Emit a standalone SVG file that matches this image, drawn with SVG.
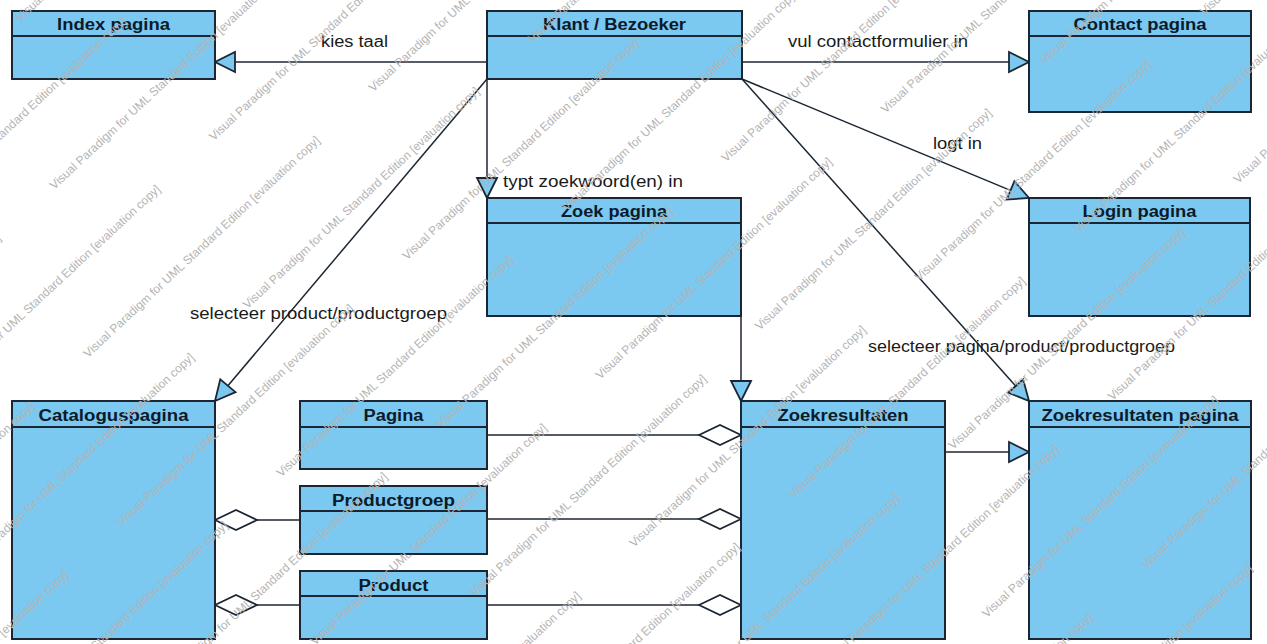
<svg xmlns="http://www.w3.org/2000/svg" width="1267" height="644" viewBox="0 0 1267 644">
<style>
.box{fill:#7BC8F0;stroke:#1c2633;stroke-width:2}
.div{stroke:#1c2633;stroke-width:2}
.hdr{font-family:"Liberation Sans",Arial,sans-serif;font-weight:bold;font-size:16px;fill:#0d1a2a;text-anchor:middle}
.lbl{font-family:"Liberation Sans",Arial,sans-serif;font-size:16px;fill:#1a1a1a}
.con{fill:none;stroke:#1c2633;stroke-width:1.5}
.wm{font-family:"Liberation Sans",Arial,sans-serif;font-size:12px;fill:#b4b4b4}
</style>
<defs>
<marker id="tri" viewBox="-2 -2 24 24" refX="20" refY="10" markerWidth="24" markerHeight="24" markerUnits="userSpaceOnUse" orient="auto">
<path d="M0,0 L20,10 L0,20 Z" fill="#7BC8F0" stroke="#1c2633" stroke-width="1.8" stroke-linejoin="miter"/>
</marker>
<marker id="dia" viewBox="-2 -2 46 24" refX="42" refY="10" markerWidth="46" markerHeight="24" markerUnits="userSpaceOnUse" orient="auto">
<path d="M0,10 L21,0 L42,10 L21,20 Z" fill="#ffffff" stroke="#1c2633" stroke-width="1.8"/>
</marker>
</defs>
<rect width="1267" height="644" fill="#ffffff"/>

<g id="connectors">
<path class="con" d="M487,62 L215,62" marker-end="url(#tri)"/>
<path class="con" d="M742,62 L1029,62" marker-end="url(#tri)"/>
<path class="con" d="M487,79 L487,198" marker-end="url(#tri)"/>
<path class="con" d="M742,79 L1029,198" marker-end="url(#tri)"/>
<path class="con" d="M742,79 L1029,401" marker-end="url(#tri)"/>
<path class="con" d="M487,79 L215,401" marker-end="url(#tri)"/>
<path class="con" d="M741,316 L741,401" marker-end="url(#tri)"/>
<path class="con" d="M945,452 L1029,452" marker-end="url(#tri)"/>
<path class="con" d="M487,435 L741,435" marker-end="url(#dia)"/>
<path class="con" d="M487,519 L741,519" marker-end="url(#dia)"/>
<path class="con" d="M487,605 L741,605" marker-end="url(#dia)"/>
<path class="con" d="M300,520 L215,520" marker-end="url(#dia)"/>
<path class="con" d="M300,605 L215,605" marker-end="url(#dia)"/>
<text class="lbl" x="321" y="47" textLength="67" lengthAdjust="spacingAndGlyphs">kies taal</text>
<text class="lbl" x="788" y="47" textLength="180" lengthAdjust="spacingAndGlyphs">vul contactformulier in</text>
<text class="lbl" x="933" y="149" textLength="49" lengthAdjust="spacingAndGlyphs">logt in</text>
<text class="lbl" x="503" y="187" textLength="180" lengthAdjust="spacingAndGlyphs">typt zoekwoord(en) in</text>
<text class="lbl" x="190" y="319" textLength="257" lengthAdjust="spacingAndGlyphs">selecteer product/productgroep</text>
<text class="lbl" x="868" y="352" textLength="307" lengthAdjust="spacingAndGlyphs">selecteer pagina/product/productgroep</text>
</g>

<g id="index-pagina">
<rect class="box" x="12" y="11" width="203" height="68"/>
<line class="div" x1="12" y1="36" x2="215" y2="36"/>
<text class="hdr" x="113.5" y="30" textLength="113" lengthAdjust="spacingAndGlyphs">Index pagina</text>
</g>
<g id="klant-bezoeker">
<rect class="box" x="487" y="11" width="255" height="68"/>
<line class="div" x1="487" y1="36" x2="742" y2="36"/>
<text class="hdr" x="614.5" y="30" textLength="143" lengthAdjust="spacingAndGlyphs">Klant / Bezoeker</text>
</g>
<g id="contact-pagina">
<rect class="box" x="1029" y="11" width="222" height="101"/>
<line class="div" x1="1029" y1="36" x2="1251" y2="36"/>
<text class="hdr" x="1140" y="30" textLength="133" lengthAdjust="spacingAndGlyphs">Contact pagina</text>
</g>
<g id="zoek-pagina">
<rect class="box" x="487" y="198" width="254" height="118"/>
<line class="div" x1="487" y1="223" x2="741" y2="223"/>
<text class="hdr" x="614" y="217" textLength="106" lengthAdjust="spacingAndGlyphs">Zoek pagina</text>
</g>
<g id="login-pagina">
<rect class="box" x="1029" y="198" width="221" height="118"/>
<line class="div" x1="1029" y1="223" x2="1250" y2="223"/>
<text class="hdr" x="1139.5" y="217" textLength="114" lengthAdjust="spacingAndGlyphs">Login pagina</text>
</g>
<g id="catalogus-pagina">
<rect class="box" x="12" y="401" width="203" height="238"/>
<line class="div" x1="12" y1="427" x2="215" y2="427"/>
<text class="hdr" x="113.5" y="421" textLength="150" lengthAdjust="spacingAndGlyphs">Cataloguspagina</text>
</g>
<g id="pagina">
<rect class="box" x="300" y="401" width="187" height="68"/>
<line class="div" x1="300" y1="427" x2="487" y2="427"/>
<text class="hdr" x="393.5" y="421" textLength="60" lengthAdjust="spacingAndGlyphs">Pagina</text>
</g>
<g id="productgroep">
<rect class="box" x="300" y="486" width="187" height="68"/>
<line class="div" x1="300" y1="511" x2="487" y2="511"/>
<text class="hdr" x="393.5" y="506" textLength="123" lengthAdjust="spacingAndGlyphs">Productgroep</text>
</g>
<g id="product">
<rect class="box" x="300" y="571" width="187" height="68"/>
<line class="div" x1="300" y1="596" x2="487" y2="596"/>
<text class="hdr" x="393.5" y="591" textLength="70" lengthAdjust="spacingAndGlyphs">Product</text>
</g>
<g id="zoekresultaten">
<rect class="box" x="741" y="401" width="204" height="238"/>
<line class="div" x1="741" y1="427" x2="945" y2="427"/>
<text class="hdr" x="843" y="421" textLength="131" lengthAdjust="spacingAndGlyphs">Zoekresultaten</text>
</g>
<g id="zoekresultaten-pagina">
<rect class="box" x="1029" y="401" width="222" height="238"/>
<line class="div" x1="1029" y1="427" x2="1251" y2="427"/>
<text class="hdr" x="1140" y="421" textLength="197" lengthAdjust="spacingAndGlyphs">Zoekresultaten pagina</text>
</g>

<g id="watermark" class="wm" transform="rotate(-43)">
<text x="0" y="30">Visual Paradigm for UML Standard Edition [evaluation copy]</text>
<text x="-240" y="103">Visual Paradigm for UML Standard Edition [evaluation copy]</text>
<text x="-480" y="176">Visual Paradigm for UML Standard Edition [evaluation copy]</text>
<text x="-90" y="176">Visual Paradigm for UML Standard Edition [evaluation copy]</text>
<text x="-330" y="249">Visual Paradigm for UML Standard Edition [evaluation copy]</text>
<text x="60" y="249">Visual Paradigm for UML Standard Edition [evaluation copy]</text>
<text x="-570" y="322">Visual Paradigm for UML Standard Edition [evaluation copy]</text>
<text x="-180" y="322">Visual Paradigm for UML Standard Edition [evaluation copy]</text>
<text x="210" y="322">Visual Paradigm for UML Standard Edition [evaluation copy]</text>
<text x="-420" y="395">Visual Paradigm for UML Standard Edition [evaluation copy]</text>
<text x="-30" y="395">Visual Paradigm for UML Standard Edition [evaluation copy]</text>
<text x="360" y="395">Visual Paradigm for UML Standard Edition [evaluation copy]</text>
<text x="-660" y="468">Visual Paradigm for UML Standard Edition [evaluation copy]</text>
<text x="-270" y="468">Visual Paradigm for UML Standard Edition [evaluation copy]</text>
<text x="120" y="468">Visual Paradigm for UML Standard Edition [evaluation copy]</text>
<text x="-510" y="541">Visual Paradigm for UML Standard Edition [evaluation copy]</text>
<text x="-120" y="541">Visual Paradigm for UML Standard Edition [evaluation copy]</text>
<text x="270" y="541">Visual Paradigm for UML Standard Edition [evaluation copy]</text>
<text x="-360" y="614">Visual Paradigm for UML Standard Edition [evaluation copy]</text>
<text x="30" y="614">Visual Paradigm for UML Standard Edition [evaluation copy]</text>
<text x="420" y="614">Visual Paradigm for UML Standard Edition [evaluation copy]</text>
<text x="-210" y="687">Visual Paradigm for UML Standard Edition [evaluation copy]</text>
<text x="180" y="687">Visual Paradigm for UML Standard Edition [evaluation copy]</text>
<text x="570" y="687">Visual Paradigm for UML Standard Edition [evaluation copy]</text>
<text x="-60" y="760">Visual Paradigm for UML Standard Edition [evaluation copy]</text>
<text x="330" y="760">Visual Paradigm for UML Standard Edition [evaluation copy]</text>
<text x="720" y="760">Visual Paradigm for UML Standard Edition [evaluation copy]</text>
<text x="-300" y="833">Visual Paradigm for UML Standard Edition [evaluation copy]</text>
<text x="90" y="833">Visual Paradigm for UML Standard Edition [evaluation copy]</text>
<text x="480" y="833">Visual Paradigm for UML Standard Edition [evaluation copy]</text>
<text x="870" y="833">Visual Paradigm for UML Standard Edition [evaluation copy]</text>
<text x="-150" y="906">Visual Paradigm for UML Standard Edition [evaluation copy]</text>
<text x="240" y="906">Visual Paradigm for UML Standard Edition [evaluation copy]</text>
<text x="630" y="906">Visual Paradigm for UML Standard Edition [evaluation copy]</text>
<text x="0" y="979">Visual Paradigm for UML Standard Edition [evaluation copy]</text>
<text x="390" y="979">Visual Paradigm for UML Standard Edition [evaluation copy]</text>
<text x="780" y="979">Visual Paradigm for UML Standard Edition [evaluation copy]</text>
<text x="150" y="1052">Visual Paradigm for UML Standard Edition [evaluation copy]</text>
<text x="540" y="1052">Visual Paradigm for UML Standard Edition [evaluation copy]</text>
<text x="300" y="1125">Visual Paradigm for UML Standard Edition [evaluation copy]</text>
<text x="60" y="1198">Visual Paradigm for UML Standard Edition [evaluation copy]</text>
<text x="450" y="1198">Visual Paradigm for UML Standard Edition [evaluation copy]</text>
<text x="210" y="1271">Visual Paradigm for UML Standard Edition [evaluation copy]</text>
</g>
</svg>
